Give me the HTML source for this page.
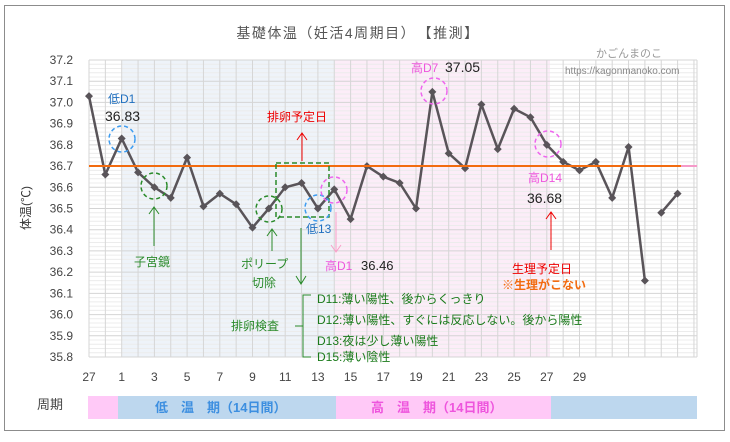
<!DOCTYPE html>
<html><head><meta charset="utf-8"><style>
body{margin:0;background:#fff;}
text{font-family:"Liberation Sans","Noto Sans CJK JP",sans-serif;}
</style></head><body>
<svg width="730" height="437" viewBox="0 0 730 437" xmlns="http://www.w3.org/2000/svg">
<rect x="0" y="0" width="730" height="437" fill="#fff"/>
<rect x="4.5" y="5.5" width="720" height="425" fill="#fff" stroke="#8c8c8c" stroke-width="1"/>
<text x="358" y="38" font-size="14" fill="#555" text-anchor="middle" letter-spacing="1.5">基礎体温（妊活4周期目）　【推測】</text>
<!-- backgrounds -->
<rect x="122" y="60" width="213" height="297" fill="#eef3f9"/>
<rect x="335" y="60" width="215" height="297" fill="#fcedf8"/>
<g id="grid"></g>
<g id="data"></g>
<!-- orange line -->
<line x1="89" y1="166" x2="681" y2="166" stroke="#f26b0f" stroke-width="2"/>
<line x1="681" y1="166" x2="697" y2="166" stroke="#f59ac9" stroke-width="2"/>
<!-- y labels -->
<g font-size="12" fill="#444" text-anchor="end" id="ylab"></g>
<g font-size="12" fill="#444" text-anchor="middle" id="xlab"></g>
<text x="30" y="208" font-size="12" fill="#333" transform="rotate(-90 30 208)" text-anchor="middle">体温(℃)</text>
<!-- annotations -->
<text x="108" y="103" font-size="12" fill="#1f6fbf">低D1</text>
<text x="105" y="121" font-size="14" fill="#222">36.83</text>
<circle cx="122" cy="139" r="13" fill="none" stroke="#3d9cf0" stroke-width="1.5" stroke-dasharray="4 3"/>
<circle cx="154" cy="186" r="13" fill="none" stroke="#2a8a2a" stroke-width="1.5" stroke-dasharray="4 3"/>
<line x1="154" y1="246" x2="154" y2="208" stroke="#2a8a2a"/><path d="M149 214 L154 207 L159 214" fill="none" stroke="#2a8a2a"/>
<text x="134" y="266" font-size="12" fill="#2a8a2a">子宮鏡</text>
<circle cx="269" cy="209" r="13" fill="none" stroke="#2a8a2a" stroke-width="1.5" stroke-dasharray="4 3"/>
<line x1="272" y1="251" x2="272" y2="230" stroke="#2a8a2a"/><path d="M267 236 L272 229 L277 236" fill="none" stroke="#2a8a2a"/>
<text x="241" y="268" font-size="12" fill="#2a8a2a">ポリープ</text>
<text x="252" y="287" font-size="12" fill="#2a8a2a">切除</text>
<rect x="276" y="163" width="53" height="54" fill="none" stroke="#2a8a2a" stroke-width="1.5" stroke-dasharray="5 3"/>
<line x1="302" y1="161" x2="302" y2="133" stroke="#e00"/><path d="M297 140 L302 133 L307 140" fill="none" stroke="#e00"/>
<text x="267" y="121" font-size="12" fill="#e00">排卵予定日</text>
<line x1="301" y1="228" x2="301" y2="283" stroke="#2a8a2a"/><path d="M296 276 L301 284 L306 276" fill="none" stroke="#2a8a2a"/>
<circle cx="318" cy="208" r="13" fill="none" stroke="#3d9cf0" stroke-width="1.5" stroke-dasharray="4 3"/>
<text x="306" y="233" font-size="12" fill="#1f6fbf">低13</text>
<circle cx="334" cy="190" r="13" fill="none" stroke="#ee66ee" stroke-width="1.5" stroke-dasharray="4 3"/>
<line x1="336" y1="212" x2="336" y2="252" stroke="#f7a0c8"/><path d="M331 245 L336 252 L341 245" fill="none" stroke="#f7a0c8"/>
<text x="325" y="270" font-size="12" fill="#ee55dd">高D1</text>
<text x="361" y="270" font-size="13" fill="#222">36.46</text>
<path d="M311 295 L303 295 L303 357 L311 357 M303 326 L295 326" fill="none" stroke="#2a8a2a"/>
<text x="231" y="330" font-size="12" fill="#2a8a2a">排卵検査</text>
<g font-size="12" fill="#1a7a1a">
<text x="317" y="303">D11:薄い陽性、後からくっきり</text>
<text x="317" y="324">D12:薄い陽性、すぐには反応しない。後から陽性</text>
<text x="317" y="345">D13:夜は少し薄い陽性</text>
<text x="317" y="361">D15:薄い陰性</text>
</g>
<text x="411" y="72" font-size="12" fill="#ee55dd">高D7</text>
<text x="445" y="72" font-size="14" fill="#222">37.05</text>
<circle cx="434" cy="91" r="13" fill="none" stroke="#ee66ee" stroke-width="1.5" stroke-dasharray="4 3"/>
<circle cx="548" cy="144" r="13" fill="none" stroke="#ee66ee" stroke-width="1.5" stroke-dasharray="4 3"/>
<text x="528" y="182" font-size="12" fill="#ee55dd">高D14</text>
<text x="527" y="203" font-size="14" fill="#222">36.68</text>
<line x1="551" y1="212" x2="551" y2="250" stroke="#e00"/><path d="M546 219 L551 212 L556 219" fill="none" stroke="#e00"/>
<text x="512" y="273" font-size="12" fill="#e00">生理予定日</text>
<text x="502" y="289" font-size="12" fill="#f26b0f" font-weight="bold">※生理がこない</text>
<text x="596" y="57" font-size="11" fill="#999">かごんまのこ</text>
<text x="565" y="74" font-size="10" fill="#888">https://kagonmanoko.com</text>
<!-- bottom band -->
<text x="37" y="409" font-size="13" fill="#444">周期</text>
<rect x="88" y="396" width="30" height="23" fill="#ffc9f7"/>
<rect x="118" y="396" width="218" height="23" fill="#bdd7ee"/>
<rect x="336" y="396" width="215" height="23" fill="#ffc9f7"/>
<rect x="551" y="396" width="146" height="23" fill="#bdd7ee"/>
<text x="155" y="412" font-size="13" fill="#3d8fe0" font-weight="bold">低　温　期（14日間）</text>
<text x="371" y="412" font-size="13" fill="#ee55dd" font-weight="bold">高　温　期（14日間）</text>
</svg>
<script>
var ns="http://www.w3.org/2000/svg";
function el(p,t,a){var e=document.createElementNS(ns,t);for(var k in a)e.setAttribute(k,a[k]);p.appendChild(e);return e;}
var g=document.getElementById("grid");
function Y(v){return 60+(37.2-v)*212.14;}
for(var i=0;i<=70;i++){var v=35.8+i*0.02;var y=Y(v);el(g,"line",{x1:89,x2:697,y1:y,y2:y,stroke:(i%5==0)?"#d4d4d4":"#ececec","stroke-width":1});}
for(var i=0;i<=37;i++){var x=89+i*16.35;if(x>698)break;el(g,"line",{x1:x,x2:x,y1:60,y2:357,stroke:"#d6d6d6","stroke-width":1});}
el(g,"line",{x1:697,x2:697,y1:60,y2:357,stroke:"#d6d6d6"});
var yl=document.getElementById("ylab");
for(var i=0;i<=14;i++){var v=35.8+i*0.1;var t=el(yl,"text",{x:73,y:Y(v)+4});t.textContent=v.toFixed(1);}
var xl=document.getElementById("xlab");
var labs=[[0,"27"]];for(var d=1;d<=29;d+=2)labs.push([d+1,""+d]);
labs.forEach(function(l){var t=el(xl,"text",{x:89+l[0]*16.35,y:381});t.textContent=l[1];});
var d=[37.03,36.66,36.83,36.67,36.60,36.55,36.74,36.51,36.57,36.52,36.41,36.50,36.60,36.62,36.50,36.59,36.45,36.70,36.65,36.62,36.50,37.05,36.76,36.69,36.99,36.78,36.97,36.93,36.80,36.72,36.68,36.72,36.55,36.79,36.16,36.48,36.57];
var dg=document.getElementById("data");
function P(i){return (89+i*16.35).toFixed(1)+","+Y(d[i]).toFixed(1);}
var p1=[];for(var i=0;i<=34;i++)p1.push(P(i));
el(dg,"polyline",{points:p1.join(" "),fill:"none",stroke:"#595459","stroke-width":2.5});
el(dg,"polyline",{points:P(35)+" "+P(36),fill:"none",stroke:"#595459","stroke-width":2.5});
for(var i=0;i<d.length;i++){var x=89+i*16.35,y=Y(d[i]);el(dg,"path",{d:"M"+(x-4)+" "+y+"L"+x+" "+(y-4)+"L"+(x+4)+" "+y+"L"+x+" "+(y+4)+"Z",fill:"#595459"});}
</script>
</body></html>
